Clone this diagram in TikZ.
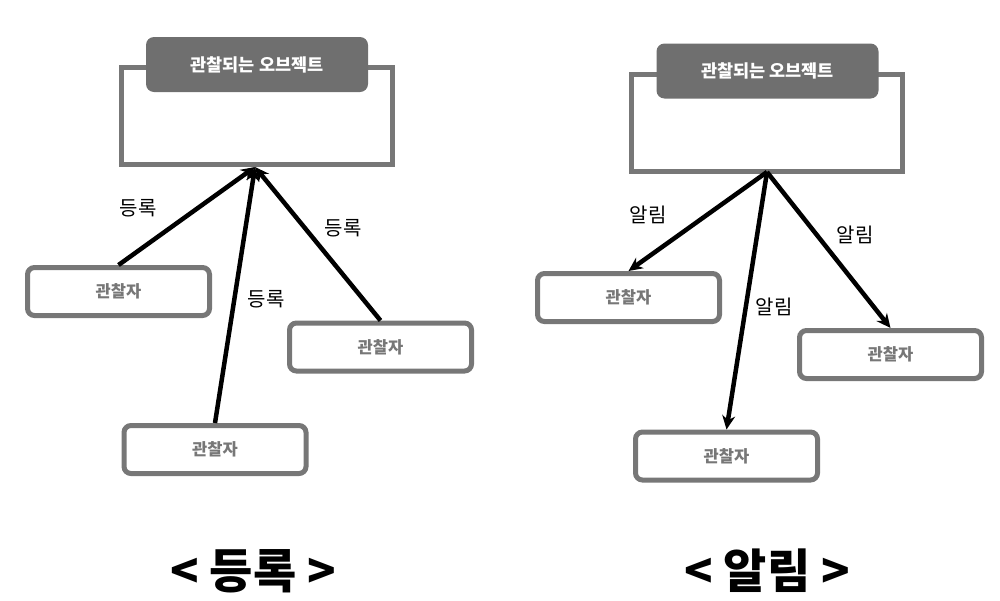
\documentclass[tikz,border=0pt]{standalone}
\usepackage{fontspec}
\setmainfont{Noto Sans CJK KR}
\usepackage{tikz}
\usetikzlibrary{positioning,arrows.meta}
\definecolor{boxgray}{HTML}{777777}
\definecolor{headgray}{HTML}{6F6F6F}

\begin{document}
\begin{tikzpicture}[x=1pt,y=-1pt,
	object/.style = {draw=boxgray, line width=5pt, minimum width=271pt, minimum height=97pt, inner sep=0pt},
	header/.style = {fill=headgray, rounded corners=8pt, minimum width=222pt, minimum height=55pt, inner sep=0pt, text=white, font=\bfseries\fontsize{17.5}{20}\selectfont},
	observer/.style = {draw=boxgray, line width=5pt, rounded corners=7pt, minimum width=182pt, minimum height=48pt, inner sep=0pt, text=boxgray, font=\bfseries\fontsize{16.5}{20}\selectfont},
	msg/.style = {font=\fontsize{20}{24}\selectfont},
	caption/.style = {font=\bfseries\fontsize{47}{56}\selectfont},
	link/.style = {line width=4.5pt, -{Stealth[length=14pt,width=13pt]}}]
	\useasboundingbox (0,0) rectangle (1000,600);

	\node[object] (objL) at (257,116) {};
	\node[header] (headL) at (257,64.5) {관찰되는 오브젝트};
	\node[observer] (obsL1) at (118.5,291.5) {관찰자};
	\node[observer] (obsL2) at (215,449.5) {관찰자};
	\node[observer] (obsL3) at (380.5,347) {관찰자};
	\coordinate (regL) at (255,167);

	\draw[link] (obsL1.north) -- (regL);
	\draw[link] (obsL2.north) -- (regL);
	\draw[link] (obsL3.north) -- (regL);

	\node[msg] at (138,208) {등록};
	\node[msg] at (266,299) {등록};
	\node[msg] at (343,228) {등록};
	\node[caption] (capL) at (253,571) {< 등록 >};

	\node[object] (objR) at (767,122.5) {};
	\node[header] (headR) at (767.5,71) {관찰되는 오브젝트};
	\node[observer] (obsR1) at (628.5,297.5) {관찰자};
	\node[observer] (obsR2) at (726.5,456) {관찰자};
	\node[observer] (obsR3) at (890.5,354.5) {관찰자};
	\coordinate (notiR) at (767,172);

	\draw[link] (notiR) -- (obsR1.north);
	\draw[link] (notiR) -- (obsR2.north);
	\draw[link] (notiR) -- (obsR3.north);

	\node[msg] at (648,215) {알림};
	\node[msg] at (774,307) {알림};
	\node[msg] at (855,235) {알림};
	\node[caption] (capR) at (767,571) {< 알림 >};
\end{tikzpicture}
\end{document}
